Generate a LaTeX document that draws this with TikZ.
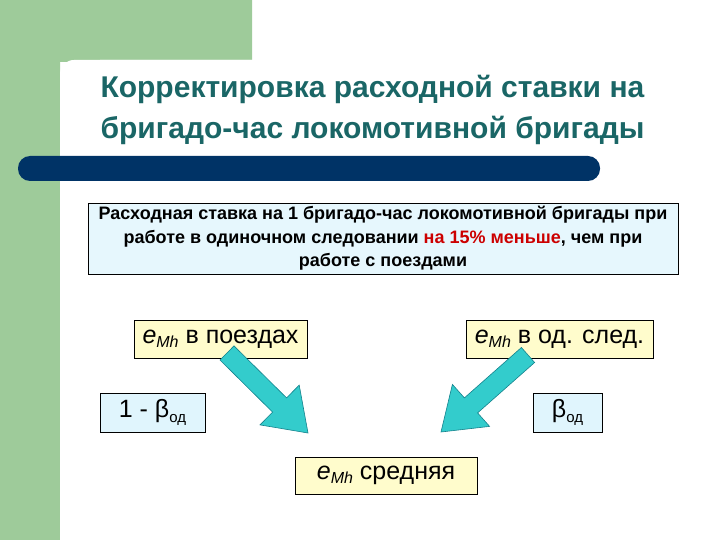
\documentclass[tikz,border=0pt]{standalone}
\usepackage{fontspec}
\setmainfont{Liberation Sans}
\definecolor{bggreen}{RGB}{158,203,154}
\definecolor{barblue}{RGB}{0,51,102}
\definecolor{titleteal}{RGB}{26,102,102}
\definecolor{arrowfill}{RGB}{51,204,204}
\definecolor{arrowline}{RGB}{20,130,140}
\begin{document}
\begin{tikzpicture}[x=1pt,y=-1pt,
  ybox/.style={draw=black,fill=yellow!20,inner sep=0pt,font=\fontsize{25}{30}\selectfont},
  cbox/.style={draw=black,fill=cyan!12,inner sep=0pt,font=\fontsize{25}{30}\selectfont},
  barrow/.style={draw=arrowline,fill=arrowfill,line width=0.6pt}]
\useasboundingbox (0,0) rectangle (720,540);
\fill[bggreen] (0,0) rectangle (252,62) (0,0) rectangle (60,540);
\fill[white,rounded corners=14pt] (60,60) rectangle (740,560);
\fill[white] (100,60) rectangle (740,560) (60,100) rectangle (100,560);
\fill[barblue,rounded corners=12pt] (18,156) rectangle (600,181);
\node[anchor=west,align=left,text=titleteal,font=\bfseries\fontsize{30}{41}\selectfont] (title) at (97,110)
 {Корректировка расходной ставки на\\бригадо-час локомотивной бригады};
\node[draw=black,fill=cyan!10,minimum width=590,minimum height=71,align=center,
 font=\bfseries\fontsize{18}{23.5}\selectfont] (info) at (383,238.5)
 {Расходная ставка на 1 бригадо-час локомотивной бригады при\\работе в одиночном следовании \textcolor{red!80!black}{на 15\% меньше}, чем при\\работе с поездами};
\node[ybox,minimum width=173,minimum height=38] (a) at (220.5,339) {\textit{e}\raisebox{-0.3ex}{\fontsize{16}{16}\selectfont\textit{Mh}} в поездах};
\node[ybox,minimum width=187,minimum height=38] (b) at (559.5,339) {\textit{e}\raisebox{-0.3ex}{\fontsize{16}{16}\selectfont\textit{Mh}} в од. след.};
\node[ybox,minimum width=182,minimum height=37] (c) at (386,475.5) {\textit{e}\raisebox{-0.3ex}{\fontsize{16}{16}\selectfont\textit{Mh}} средняя};
\node[cbox,minimum width=105,minimum height=39] (l) at (152.5,412.5) {1 - β\raisebox{-0.4ex}{\fontsize{15}{15}\selectfont од}};
\node[cbox,minimum width=69,minimum height=39] (r) at (567.5,412.5) {β\raisebox{-0.4ex}{\fontsize{15}{15}\selectfont од}};
\draw[barrow] (220,360) -- (272.6,412.1) -- (260,424.9) -- (308,433) -- (299.2,385.1) -- (286.6,397.9) -- (234,345.9) -- cycle;
\draw[barrow] (534.6,362.5) -- (477.6,412.9) -- (489.6,426.4) -- (441,432) -- (452.4,384.4) -- (464.4,397.9) -- (521.4,347.5) -- cycle;
\end{tikzpicture}
\end{document}
